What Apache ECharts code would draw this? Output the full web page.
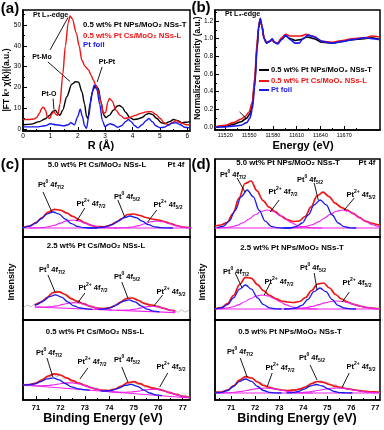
<!DOCTYPE html>
<html><head><meta charset="utf-8">
<script src="https://cdn.jsdelivr.net/npm/echarts@6/dist/echarts.min.js"></script>
<style>html,body{margin:0;padding:0;background:#fff}#c{width:384px;height:430px}</style>
</head><body><div id="c"></div>
<script>
// ================= DATA =================
// (a) EXAFS |FT k3 chi(k)| vs R (Å)
const exafsNPs = [[0,2],[0.3,2.3],[0.6,3.5],[0.8,4.8],[0.97,6.5],[1.1,8.5],[1.18,9],[1.27,7.5],[1.35,6.5],[1.45,9],[1.6,15.5],[1.78,21.5],[1.92,22.7],[2.03,22.5],[2.15,18],[2.25,12],[2.32,6],[2.37,5],[2.45,12],[2.55,18.5],[2.65,21],[2.75,19.5],[2.85,13],[2.94,7],[3.02,5.5],[3.15,6.5],[3.3,9],[3.45,11],[3.52,11.3],[3.62,10.5],[3.75,8],[3.9,5.5],[4.04,4.5],[4.2,4.8],[4.35,5.5],[4.5,7],[4.6,7.5],[4.72,7],[4.89,5],[5.05,3],[5.19,2.5],[5.35,3.5],[5.5,4.5],[5.65,4],[5.8,3],[5.95,3.2],[6.1,3.5]];
const exafsCs = [[0,4.5],[0.2,4.5],[0.4,4.8],[0.5,5.5],[0.6,7.5],[0.68,9.8],[0.75,10.5],[0.82,9],[0.9,5.5],[0.97,5],[1.05,7],[1.12,8.5],[1.2,7],[1.27,6.5],[1.35,12],[1.45,26],[1.55,40],[1.65,51],[1.72,54.3],[1.8,53],[1.95,46],[2.05,40],[2.15,33],[2.27,30],[2.39,28.5],[2.48,26],[2.57,23.5],[2.66,21],[2.75,18],[2.84,13],[2.94,7.5],[3.02,8],[3.1,13],[3.16,14.7],[3.25,13.5],[3.4,9],[3.55,6.5],[3.72,5],[3.9,5.5],[4.1,6.5],[4.3,7.5],[4.5,8.2],[4.7,8.3],[4.85,7],[5.01,5],[5.15,3],[5.32,2],[5.45,3],[5.6,4],[5.75,3],[5.96,2],[6.1,2]];
const exafsFoil = [[0,1],[0.3,1],[0.5,1],[0.8,1.5],[1.0,2.5],[1.2,2],[1.5,1.5],[1.65,2],[1.75,3],[1.88,2],[2.0,6],[2.09,9.5],[2.17,6],[2.25,1.5],[2.32,0.3],[2.4,6],[2.5,16],[2.6,21],[2.7,19],[2.8,12],[2.9,4],[3.0,1],[3.1,2],[3.18,2.5],[3.3,2],[3.45,0.8],[3.6,1.5],[3.75,3.5],[3.85,4.5],[3.95,3.5],[4.08,1.5],[4.2,0.5],[4.35,2],[4.5,4],[4.6,5],[4.72,3.5],[4.85,1.5],[5.0,0.6],[5.15,0.8],[5.3,1.8],[5.45,2.8],[5.6,3],[5.75,2],[5.9,0.8],[6.1,0.5]];
const exafsXTicks = [0,1,2,3,4,5,6];
const exafsYTicks = [0,10,20,30,40,50];

// (b) XANES normalized intensity vs energy (eV)
const xanesNPs = [[11507,0],[11520,0.01],[11530,0.03],[11540,0.06],[11547,0.1],[11551,0.15],[11554,0.25],[11557,0.5],[11560,0.9],[11562,1.12],[11564,1.22],[11566,1.15],[11569,1.0],[11572,0.95],[11576,0.97],[11579,0.99],[11582,0.96],[11586,0.95],[11591,1.0],[11596,1.03],[11602,1.0],[11608,0.98],[11615,0.99],[11623,1.02],[11632,1.0],[11642,0.96],[11655,0.95],[11668,0.97],[11680,0.99],[11695,1.0],[11705,1.01],[11714,0.99]];
const xanesCs = [[11507,0],[11520,0.02],[11530,0.05],[11540,0.09],[11545,0.12],[11550,0.17],[11554,0.28],[11557,0.55],[11560,0.95],[11562,1.15],[11564,1.22],[11566,1.15],[11569,1.0],[11572,0.96],[11576,0.97],[11579,0.98],[11582,0.96],[11586,0.95],[11591,1.01],[11596,1.05],[11602,1.03],[11608,1.03],[11615,1.03],[11622,1.05],[11630,1.03],[11642,0.97],[11655,0.96],[11668,0.98],[11680,1.0],[11695,1.01],[11705,1.03],[11714,1.02]];
const xanesFoil = [[11507,0],[11520,0],[11530,0.01],[11540,0.02],[11547,0.05],[11551,0.1],[11554,0.2],[11557,0.45],[11560,0.88],[11562,1.12],[11564,1.23],[11566,1.15],[11569,1.0],[11572,0.95],[11576,0.97],[11579,1.0],[11582,0.96],[11586,0.94],[11591,0.99],[11596,1.04],[11602,0.99],[11608,0.95],[11613,0.95],[11618,1.0],[11624,1.04],[11632,1.02],[11642,0.97],[11655,0.95],[11668,0.97],[11680,0.99],[11695,1.01],[11705,1.0],[11714,0.99]];
const xanesXTicks = [11520,11550,11580,11610,11640,11670];
const xanesYTicks = [0,0.2,0.4,0.6,0.8,1.0,1.2];

// (c) XPS Pt 4f, Pt Cs/MoO2 NSs-L  [binding energy, intensity a.u.]
const c50Env = [[70.5,9.6],[70.75,11.0],[71.0,14.3],[71.25,19.5],[71.5,24.8],[71.75,27.6],[72.0,26.9],[72.25,24.1],[72.5,20.7],[72.75,17.4],[73.0,14.2],[73.25,11.7],[73.5,10.4],[73.75,10.2],[74.0,11.4],[74.25,14.3],[74.5,18.2],[74.75,22.5],[75.0,23.0],[75.25,21.5],[75.5,19.5],[75.75,18.0],[76.0,17.0],[76.25,15.5],[76.5,13.5],[76.75,11.5],[77.0,10.0],[77.25,9.3]];
const c50Pt0a = [[70.2,9],[70.45,9.4],[70.7,10.6],[70.95,13.4],[71.2,18],[71.45,22.9],[71.7,25],[71.95,22.9],[72.2,18],[72.45,13.4],[72.7,10.6],[72.95,9.4],[73.2,9.1],[73.5,9]];
const c50Pt2a = [[70.7,9],[71.0,9.1],[71.25,9.4],[71.5,10.2],[71.75,11.7],[72.0,13.9],[72.25,16.1],[72.5,17],[72.75,16.1],[73.0,13.9],[73.25,11.7],[73.5,10.2],[73.75,9.4],[74.0,9.1],[74.3,9]];
const c50Pt0b = [[73.1,9],[73.35,9.1],[73.6,9.3],[73.85,10.2],[74.1,12.3],[74.35,15.8],[74.6,19.4],[74.85,21],[75.1,19.4],[75.35,15.8],[75.6,12.3],[75.85,10.2],[76.1,9.3],[76.35,9.1],[76.6,9]];
const c50Pt2b = [[74.2,9],[74.45,9.1],[74.7,9.3],[74.95,10.0],[75.2,11.4],[75.45,13.3],[75.7,15.2],[75.95,16],[76.2,15.2],[76.45,13.3],[76.7,11.4],[76.95,10.0],[77.2,9.3],[77.45,9.1]];
const c50Base = [[70.47,9],[77.3,9]];

const c25Raw = [[70.5,12.5],[70.65,15.0],[70.8,13.2],[70.95,16.1],[71.1,15.4],[71.25,19.6],[71.4,20.4],[71.55,25.3],[71.7,26.0],[71.85,29.5],[72.0,27.0],[72.15,26.5],[72.3,22.1],[72.45,22.8],[72.6,18.3],[72.75,19.9],[72.9,15.2],[73.05,16.4],[73.2,12.7],[73.35,14.1],[73.5,11.0],[73.65,12.6],[73.8,10.9],[73.95,12.8],[74.1,12.4],[74.25,15.9],[74.4,16.2],[74.55,19.8],[74.7,20.1],[74.85,23.5],[75.0,21.0],[75.15,20.2],[75.3,17.0],[75.45,17.8],[75.6,14.2],[75.75,15.9],[75.9,12.9],[76.05,14.2],[76.2,11.1],[76.35,11.8],[76.5,9.0],[76.65,10.6],[76.8,7.6],[76.95,10.1],[77.1,7.9],[77.25,9.6]];
const c25Env = [[70.95,14.8],[71.2,17.7],[71.45,22.3],[71.7,27.5],[71.95,28.2],[72.2,25.5],[72.45,21.2],[72.7,18.6],[72.95,16.1],[73.2,13.8],[73.45,12.1],[73.7,11.3],[73.95,11.8],[74.2,13.9],[74.45,17.6],[74.7,21.5],[74.95,22.0],[75.2,19.5],[75.45,16.3],[75.7,15.0],[75.95,13.7],[76.2,11.9],[76.45,10.0],[76.7,8.6]];
const c25Pt0a = [[70.95,14.8],[71.05,15.6],[71.3,19.2],[71.55,23.3],[71.8,25.2],[72.05,22.8],[72.3,18.2],[72.55,14.1],[72.8,12.0],[73.05,11.2],[73.3,10.7]];
const c25Pt2a = [[70.95,13],[71.1,12.9],[71.35,12.9],[71.6,13.3],[71.85,14.1],[72.1,15.6],[72.35,16.9],[72.6,17.4],[72.85,16.5],[73.1,14.6],[73.35,12.7],[73.6,11.3],[73.85,10.5],[74.1,10.0]];
const c25Pt0b = [[73.55,10.6],[73.8,10.9],[74.05,12.3],[74.3,15.2],[74.55,18.7],[74.8,20.2],[75.05,18.2],[75.3,14.2],[75.55,10.8],[75.8,8.9],[76.05,8.15]];
const c25Pt2b = [[74.3,9.8],[74.55,9.7],[74.8,10.0],[75.05,10.9],[75.3,12.1],[75.55,13.4],[75.8,13.7],[76.05,12.9],[76.3,11.2],[76.55,9.4],[76.7,8.7]];
const c25Base = [[70.95,13],[76.7,7.4]];

const c05Raw = [[70.5,15.8],[70.65,13.9],[70.8,16.4],[70.95,15.6],[71.1,18.5],[71.25,18.8],[71.4,22.6],[71.55,22.9],[71.7,25.8],[71.85,23.4],[72.0,25.1],[72.15,21.0],[72.3,21.6],[72.45,17.9],[72.6,18.6],[72.75,15.4],[72.9,16.2],[73.05,12.9],[73.2,13.8],[73.35,10.8],[73.5,12.2],[73.65,9.4],[73.8,10.6],[73.95,9.0],[74.1,11.3],[74.25,10.4],[74.4,13.6],[74.55,14.1],[74.7,17.2],[74.85,16.0],[75.0,18.4],[75.15,15.3],[75.3,16.1],[75.45,12.9],[75.6,13.8],[75.75,11.1],[75.9,12.4],[76.05,9.7],[76.2,10.6],[76.35,7.5],[76.5,8.6],[76.65,5.4],[76.8,6.7],[76.95,3.6],[77.1,5.2],[77.25,2.3]];
const c05Env = [[70.47,15.1],[70.75,15.4],[71.0,16.8],[71.25,20.2],[71.5,24.0],[71.75,26.2],[72.0,25.0],[72.25,22.2],[72.5,19.3],[72.75,16.9],[73.0,14.6],[73.25,12.4],[73.5,10.7],[73.75,9.6],[74.0,9.5],[74.25,11.0],[74.5,14.0],[74.75,17.3],[75.0,18.3],[75.25,16.4],[75.5,13.9],[75.75,12.2],[76.0,10.8],[76.25,9.0],[76.5,7.1],[76.75,5.3],[77.0,3.7],[77.3,2.4]];
const c05Pt0a = [[70.47,15.1],[70.7,15.2],[70.95,16.1],[71.2,18.4],[71.45,21.1],[71.7,22.2],[71.95,20.2],[72.2,16.5],[72.45,13.2],[72.7,11.4],[72.95,10.4],[73.2,9.8]];
const c05Pt2a = [[70.47,15.0],[70.75,14.6],[71.0,14.2],[71.25,14.2],[71.5,14.5],[71.75,15.3],[72.0,16.3],[72.25,17.1],[72.5,17.1],[72.75,16.2],[73.0,14.4],[73.25,12.4],[73.5,10.7],[73.75,9.4],[74.0,8.5],[74.25,7.9],[74.5,7.3]];
const c05Pt0b = [[73.65,9.05],[73.9,9.0],[74.15,9.9],[74.4,12.0],[74.65,14.6],[74.9,15.6],[75.15,13.7],[75.4,10.1],[75.65,7.0],[75.9,5.2],[76.15,4.3]];
const c05Pt2b = [[73.9,8.5],[74.15,8.1],[74.4,7.8],[74.65,7.7],[74.9,8.0],[75.15,8.8],[75.4,9.8],[75.65,10.6],[75.9,10.7],[76.15,9.7],[76.4,7.9],[76.65,5.9],[76.9,4.2],[77.15,2.9],[77.3,2.3]];
const c05Base = [[70.47,15],[77.3,2]];

// (d) XPS Pt 4f, Pt NPs/MoO2 NSs-T
const d50Env = [[70.33,11.0],[70.58,12.0],[70.83,14.5],[71.08,23.5],[71.33,38.9],[71.58,53.5],[71.83,56.0],[72.08,46.2],[72.33,36.4],[72.58,29.9],[72.83,25.3],[73.08,21.0],[73.33,17.5],[73.58,15.5],[73.83,16.0],[74.08,20.5],[74.33,30.2],[74.58,41.2],[74.83,44.8],[75.08,40.4],[75.33,33.9],[75.58,29.7],[75.83,26.8],[76.08,23.6],[76.33,19.6],[76.58,16.0],[76.83,14.0],[77.08,12.5],[77.2,12.0]];
const d50Pt0a = [[70.42,9.3],[70.67,10.7],[70.92,15.8],[71.17,26.6],[71.42,40.4],[71.67,47],[71.92,40.4],[72.17,26.6],[72.42,15.8],[72.67,10.7],[72.92,9.3],[73.17,9.0],[73.5,9]];
const d50Pt2a = [[70.33,9],[70.5,9.1],[70.75,9.4],[71.0,10.1],[71.25,11.6],[71.5,14.3],[71.75,18],[72.0,22.2],[72.25,25.7],[72.5,27],[72.75,25.7],[73.0,22.2],[73.25,18],[73.5,14.3],[73.75,11.6],[74.0,10.1],[74.25,9.4],[74.5,9.1],[74.8,9]];
const d50Pt0b = [[73.2,9],[73.46,9.2],[73.71,10.3],[73.96,14.0],[74.21,22.0],[74.46,32.1],[74.71,37],[74.96,32.1],[75.21,22.0],[75.46,14.0],[75.71,10.3],[75.96,9.2],[76.21,9]];
const d50Pt2b = [[73.4,9.1],[73.63,9.2],[73.88,9.6],[74.13,10.6],[74.38,12.3],[74.63,15.1],[74.88,18.8],[75.13,22.7],[75.38,25.8],[75.63,27],[75.88,25.8],[76.13,22.7],[76.38,18.8],[76.63,15.1],[76.88,12.3],[77.13,10.6],[77.2,10.3]];
const d50Base = [[70.33,9],[77.2,9]];

const d25Env = [[70.35,11.3],[70.6,12.5],[70.85,16.4],[71.1,24.5],[71.35,35.4],[71.6,42.7],[71.85,41.7],[72.1,35.4],[72.35,29.3],[72.6,24.6],[72.85,21.5],[73.1,19.0],[73.35,18.0],[73.6,17.5],[73.85,18.5],[74.1,22.5],[74.35,29.5],[74.6,36.0],[74.85,37.0],[75.1,32.0],[75.35,25.5],[75.6,21.0],[75.85,18.0],[76.1,15.7],[76.35,14.0],[76.6,12.7],[76.85,11.8],[77.1,11.4],[77.2,11.3]];
const d25Pt0a = [[70.35,11.2],[70.6,12.1],[70.85,15.3],[71.1,22.1],[71.35,30.8],[71.6,35],[71.85,30.8],[72.1,22.1],[72.35,15.3],[72.6,12.1],[72.85,11.2],[73.1,11]];
const d25Pt2a = [[70.33,11.1],[70.55,11.3],[70.8,11.9],[71.05,13.0],[71.3,15.1],[71.55,18],[71.8,21.3],[72.05,24.0],[72.3,25],[72.55,24.0],[72.8,21.3],[73.05,18],[73.3,15.1],[73.55,13.0],[73.8,11.9],[74.05,11.3],[74.3,11.1],[74.6,11]];
const d25Pt0b = [[73.2,11],[73.45,11.2],[73.7,12.0],[73.95,14.7],[74.2,20.7],[74.45,28.3],[74.7,32],[74.95,28.3],[75.2,20.7],[75.45,14.7],[75.7,12.0],[75.95,11.2],[76.2,11]];
const d25Pt2b = [[73.2,11],[73.4,11.1],[73.65,11.3],[73.9,11.7],[74.15,12.5],[74.4,13.7],[74.65,15.4],[74.9,17.1],[75.15,18.5],[75.4,19],[75.65,18.5],[75.9,17.1],[76.15,15.4],[76.4,13.7],[76.65,12.5],[76.9,11.7],[77.15,11.3],[77.2,11.2]];
const d25Base = [[70.33,11],[77.2,11]];

const d05Raw = [[70.4,7.8],[70.55,6.5],[70.7,8.6],[70.85,9.1],[71.0,12.6],[71.15,14.2],[71.3,19.3],[71.45,20.5],[71.6,24.1],[71.75,22.2],[71.9,22.8],[72.05,18.6],[72.2,17.6],[72.35,15.9],[72.5,14.3],[72.65,13.4],[72.8,11.9],[72.95,11.2],[73.1,9.1],[73.25,10.4],[73.4,8.6],[73.55,10.8],[73.7,9.5],[73.85,11.6],[74.0,11.0],[74.15,14.4],[74.3,15.1],[74.45,18.6],[74.6,18.2],[74.75,19.4],[74.9,16.5],[75.05,17.6],[75.2,14.3],[75.35,15.6],[75.5,13.1],[75.65,14.0],[75.8,11.3],[75.95,11.9],[76.1,9.5],[76.25,10.4],[76.4,8.2],[76.55,9.6],[76.7,7.3],[76.85,8.4],[77.0,6.8],[77.15,7.9]];
const d05Env = [[70.35,7.8],[70.6,8.0],[70.85,9.8],[71.1,14.1],[71.35,19.9],[71.6,23.3],[71.85,22.0],[72.1,18.0],[72.35,14.5],[72.6,12.4],[72.85,11.0],[73.1,10.0],[73.35,9.5],[73.6,9.8],[73.85,10.8],[74.1,13.0],[74.35,16.3],[74.6,18.5],[74.85,17.6],[75.1,15.5],[75.35,13.7],[75.6,12.4],[75.85,11.2],[76.1,10.2],[76.35,9.3],[76.6,8.6],[76.85,8.2],[77.1,7.9],[77.2,7.8]];
const d05Pt0a = [[70.35,7.1],[70.6,7.6],[70.85,9.5],[71.1,13.5],[71.35,18.55],[71.6,21],[71.85,18.55],[72.1,13.5],[72.35,9.5],[72.6,7.6],[72.85,7.1],[73.1,7]];
const d05Pt2a = [[70.4,7.0],[70.65,7.1],[70.9,7.3],[71.15,7.7],[71.4,8.5],[71.65,9.5],[71.9,10.7],[72.15,11.6],[72.4,12],[72.65,11.6],[72.9,10.7],[73.15,9.5],[73.4,8.5],[73.65,7.7],[73.9,7.3],[74.15,7.1],[74.4,7.0]];
const d05Pt0b = [[73.3,7.1],[73.55,7.4],[73.8,8.5],[74.05,10.9],[74.3,14.0],[74.55,15.5],[74.8,14.0],[75.05,10.9],[75.3,8.5],[75.55,7.4],[75.8,7.1],[76.05,7]];
const d05Pt2b = [[73.4,7.1],[73.65,7.2],[73.9,7.4],[74.15,7.9],[74.4,8.7],[74.65,9.7],[74.9,10.8],[75.15,11.7],[75.4,12],[75.65,11.7],[75.9,10.8],[76.15,9.7],[76.4,8.7],[76.65,7.9],[76.9,7.4],[77.15,7.2],[77.2,7.15]];
const d05Base = [[70.33,7],[77.2,7]];

const xpsTicks = [71,72,73,74,75,76,77];
const xpsMinor = [70.5,71.5,72.5,73.5,74.5,75.5,76.5];

const seriesNames = ['0.5 wt% Pt NPs/MoO\u2082 NSs-T','0.5 wt% Pt Cs/MoO\u2082 NSs-L','Pt foil'];
const cTitles = ['5.0 wt% Pt Cs/MoO\u2082 NSs-L','2.5 wt% Pt Cs/MoO\u2082 NSs-L','0.5 wt% Pt Cs/MoO\u2082 NSs-L'];
const dTitles = ['5.0 wt% Pt NPs/MoO\u2082 NSs-T','2.5 wt% Pt NPs/MoO\u2082 NSs-T','0.5 wt% Pt NPs/MoO\u2082 NSs-T'];

// ================= LAYOUT / STYLE =================
const FONT = '"Liberation Sans", Arial, Helvetica, sans-serif';
const RED = '#f01414', BLUE = '#1818f0', MAG = '#ee22ee', GRAY = '#b8b8b8', BLK = '#000';

const grids = [
  {left:23, top:10, width:167, height:121},
  {left:215, top:10, width:165, height:120},
  {left:23, top:159, width:167, height:78},
  {left:23, top:237, width:167, height:83},
  {left:23, top:320, width:167, height:80},
  {left:215, top:159, width:165, height:78},
  {left:215, top:237, width:165, height:83},
  {left:215, top:320, width:165, height:80}
].map(g => Object.assign({show:true, borderColor:'#000', borderWidth:1.5, backgroundColor:'transparent', containLabel:false}, g));

const ranges = [
  {x:[0,6.1], y:[-1,57.2]},
  {x:[11507,11715], y:[-0.034,1.325]},
  {x:[70.47,77.3], y:[0,78]},
  {x:[70.47,77.3], y:[0,83]},
  {x:[70.47,77.3], y:[0,80]},
  {x:[70.33,77.2], y:[0,78]},
  {x:[70.33,77.2], y:[0,83]},
  {x:[70.33,77.2], y:[0,80]}
];

function mainAxis(gi, isX, rng, major, labelCfg) {
  const a = {
    type:'value', gridIndex:gi, min:rng[0], max:rng[1],
    position: isX ? 'bottom' : 'left',
    axisLine:{show:true, onZero:false, lineStyle:{color:'#000', width: isX && (gi===2||gi===3||gi===5||gi===6) ? 2 : 1.5}},
    splitLine:{show:false},
    axisTick:{show:!!major, inside:true, length:4, lineStyle:{color:'#000', width:1}},
    axisLabel:{show:!!labelCfg},
  };
  if (major) a.axisTick.customValues = major;
  if (labelCfg) a.axisLabel = Object.assign({show:true, customValues:major, color:'#000', fontFamily:FONT}, labelCfg);
  return a;
}
function minorAxis(gi, isX, rng, minor) {
  return {type:'value', gridIndex:gi, min:rng[0], max:rng[1], position: isX?'bottom':'left',
    axisLine:{show:false, onZero:false}, splitLine:{show:false}, axisLabel:{show:false},
    axisTick:{show:true, inside:true, length:2, customValues:minor, lineStyle:{color:'#000', width:1}}};
}

const xAxes = [], yAxes = [];
xAxes.push(mainAxis(0,true,ranges[0].x, exafsXTicks, {fontSize:6.5, margin:2, formatter:v=>String(v)}));
yAxes.push(mainAxis(0,false,ranges[0].y, exafsYTicks, {fontSize:6.5, margin:2, formatter:v=>String(v)}));
xAxes.push(mainAxis(1,true,ranges[1].x, xanesXTicks, {fontSize:5.5, margin:2, formatter:v=>String(v)}));
yAxes.push(mainAxis(1,false,ranges[1].y, xanesYTicks, {fontSize:6.5, margin:2, formatter:v=>v.toFixed(1)}));
for (let gi=2; gi<8; gi++) {
  const bottom = (gi===4 || gi===7);
  xAxes.push(mainAxis(gi,true,ranges[gi].x, bottom?xpsTicks:null, bottom?{fontSize:7.5, fontWeight:'bold', margin:4, formatter:v=>String(v)}:null));
  yAxes.push(mainAxis(gi,false,ranges[gi].y, null, null));
}
// minor ticks
xAxes.push(minorAxis(0,true,ranges[0].x,[0.5,1.5,2.5,3.5,4.5,5.5]));
yAxes.push(minorAxis(0,false,ranges[0].y,[5,15,25,35,45,55]));
xAxes.push(minorAxis(1,true,ranges[1].x,[11535,11565,11595,11625,11655,11685]));
yAxes.push(minorAxis(1,false,ranges[1].y,[0.1,0.3,0.5,0.7,0.9,1.1,1.3]));
xAxes.push(minorAxis(4,true,ranges[4].x,xpsMinor));
xAxes.push(minorAxis(7,true,ranges[7].x,xpsMinor));

// ================= SERIES =================
const series = [];
function line(gi, data, color, width, opt) {
  const s = Object.assign({type:'line', xAxisIndex:gi, yAxisIndex:gi, data:data, symbol:'none', showSymbol:false,
    smooth:0.35, smoothMonotone:'x', lineStyle:{color:color, width:width}, itemStyle:{color:color},
    animation:false, silent:true, clip:true}, opt||{});
  series.push(s);
  return s;
}
function arrows(list) {
  return {silent:true, animation:false, symbol:['none','arrow'], symbolSize:[0,5], label:{show:false},
    lineStyle:{color:'#000', width:0.9, type:'solid'}, emphasis:{disabled:true},
    data:list.map(a=>[{coord:[a[0],a[1]]},{coord:[a[2],a[3]]}])};
}

// annotation arrows (data coords)
const aArrows = [[0.99,38,1.64,53.5],[0.91,32.2,1.72,22.8],[2.89,29.8,2.71,22.6],[1.1,14.6,1.13,9.4]];
const bArrows = [[11538,0.17,11546,0.1]];
const xpsArrows = [
  [[71.29,45,71.65,25],[73.0,29,72.67,16],[74.35,37,74.63,20],[75.94,27,75.57,15]],
  [[71.49,45,71.78,28],[73.0,27,72.71,17],[74.51,38,74.76,22],[76.18,25,75.82,14]],
  [[71.45,42,71.69,23],[73.12,32,72.8,21],[74.51,33,74.76,18],[76.39,27,76.06,13]],
  [[71.25,59,71.58,45],[73.0,37,72.63,25],[74.46,54,74.63,37],[76.13,39,75.71,27]],
  [[71.17,47,71.46,32],[72.63,37,72.38,25],[74.46,47,74.58,30],[75.92,28,75.63,18]],
  [[71.38,42,71.67,23],[72.71,27,72.5,13],[74.29,35,74.58,20],[75.92,27,75.63,13]]
];

line(0, exafsNPs, BLK, 1.4, {name:seriesNames[0], smooth:0.3, markLine:arrows(aArrows)});
line(0, exafsCs, RED, 1.4, {name:seriesNames[1], smooth:0.3});
line(0, exafsFoil, BLUE, 1.4, {name:seriesNames[2], smooth:0.3});

line(1, xanesNPs, BLK, 1.6, {name:seriesNames[0], smooth:0.3});
line(1, xanesCs, RED, 1.6, {name:seriesNames[1], smooth:0.3});
line(1, xanesFoil, BLUE, 1.6, {name:seriesNames[2], smooth:0.3, markLine:arrows(bArrows)});

const xpsSets = [
  {raw:null,   env:c50Env, p0a:c50Pt0a, p2a:c50Pt2a, p0b:c50Pt0b, p2b:c50Pt2b, base:c50Base},
  {raw:c25Raw, env:c25Env, p0a:c25Pt0a, p2a:c25Pt2a, p0b:c25Pt0b, p2b:c25Pt2b, base:c25Base},
  {raw:c05Raw, env:c05Env, p0a:c05Pt0a, p2a:c05Pt2a, p0b:c05Pt0b, p2b:c05Pt2b, base:c05Base},
  {raw:null,   env:d50Env, p0a:d50Pt0a, p2a:d50Pt2a, p0b:d50Pt0b, p2b:d50Pt2b, base:d50Base},
  {raw:null,   env:d25Env, p0a:d25Pt0a, p2a:d25Pt2a, p0b:d25Pt0b, p2b:d25Pt2b, base:d25Base},
  {raw:d05Raw, env:d05Env, p0a:d05Pt0a, p2a:d05Pt2a, p0b:d05Pt0b, p2b:d05Pt2b, base:d05Base}
];
xpsSets.forEach((s, i) => {
  const gi = i + 2;
  if (s.raw) line(gi, s.raw, GRAY, 0.9, {smooth:false});
  line(gi, s.env, RED, 1.7, {markLine:arrows(xpsArrows[i])});
  line(gi, s.base, MAG, 1.1, {smooth:false});
  line(gi, s.p2a, MAG, 1.1);
  line(gi, s.p2b, MAG, 1.1);
  line(gi, s.p0a, BLUE, 1.3);
  line(gi, s.p0b, BLUE, 1.3);
});

// ================= TEXT (graphic) =================
const graphics = [];
function T(x, y, text, size, opt) {
  opt = opt || {};
  graphics.push({type:'text', x:x, y:y, rotation:opt.rot||0, z:100, silent:true,
    style:{text:text, fill:opt.color||'#000', font:(opt.weight||'bold')+' '+size+'px '+FONT,
      textAlign:opt.align||'center', textVerticalAlign:'middle', align:opt.align||'center', verticalAlign:'middle'}});
}
function peakLabel(x, y, charge, orb) {
  graphics.push({type:'text', x:x, y:y, z:100, silent:true,
    style:{text:'{b|Pt}{p|'+charge+'}{b| 4f}{s|'+orb+'}', align:'center', verticalAlign:'middle',
      textAlign:'center', textVerticalAlign:'middle', fill:'#000',
      rich:{b:{font:'bold 7.5px '+FONT, lineHeight:11, fill:'#000', verticalAlign:'middle'},
            p:{font:'bold 5px '+FONT, fill:'#000', verticalAlign:'top'},
            s:{font:'bold 5px '+FONT, fill:'#000', verticalAlign:'bottom'}}}});
}
function lineG(x1,y1,x2,y2,color,w) {
  graphics.push({type:'line', z:100, silent:true, shape:{x1,y1,x2,y2}, style:{stroke:color, lineWidth:w}});
}

// panel a
T(10, 9, '(a)', 15);
T(33, 15, 'Pt L\u2083-edge', 7, {align:'left'});
T(83, 25, seriesNames[0], 7.8, {align:'left'});
T(83, 36, seriesNames[1], 7.8, {align:'left', color:RED});
T(83, 45, seriesNames[2], 7.8, {align:'left', color:BLUE});
T(42, 57, 'Pt-Mo', 7);
T(107, 62, 'Pt-Pt', 7);
T(49, 94, 'Pt-O', 7);
T(7, 80, '|FT k\u00b3 \u03c7(k)|(a.u.)', 8.5, {rot:Math.PI/2});
T(101, 146, 'R (\u00c5)', 11);

// panel b
T(201, 8, '(b)', 15);
T(225, 14, 'Pt L\u2083-edge', 7, {align:'left'});
[[70,BLK],[81,RED],[90,BLUE]].forEach((r,i)=>{
  lineG(259, r[0], 269, r[0], r[1], 2);
  T(271, r[0], seriesNames[i], 7.6, {align:'left', color:r[1]});
});
T(198, 68, 'Normalized Intensity (a.u.)', 8.3, {rot:Math.PI/2});
T(303, 146, 'Energy (eV)', 11);

// panel c
T(10, 165, '(c)', 15);
T(97, 165, cTitles[0], 7.8);
T(176, 165, 'Pt 4f', 7.8);
T(96, 246, cTitles[1], 7.8);
T(95, 332, cTitles[2], 7.8);
T(12, 282, 'Intensity', 9, {rot:Math.PI/2});
T(103, 419, 'Binding Energy (eV)', 12.5);

// panel d
T(201, 165, '(d)', 15);
T(288, 163, dTitles[0], 7.8);
T(367, 163, 'Pt 4f', 7.8);
T(292, 248, dTitles[1], 7.8);
T(290, 332, dTitles[2], 7.8);
T(203, 282, 'Intensity', 9, {rot:Math.PI/2});
T(297, 419, 'Binding Energy (eV)', 12.5);

const peakLabelPos = [
  [[51,185],[91,204],[127,197],[168,205]],
  [[52,270],[93,288],[127,277],[171,292]],
  [[49,353],[92,362],[127,360],[171,367]],
  [[233,175],[283,192],[310,180],[361,195]],
  [[236,272],[279,282],[313,268],[357,283]],
  [[240,352],[280,368],[312,358],[361,367]]
];
const peakKinds = [['0','7/2'],['2+','7/2'],['0','5/2'],['2+','5/2']];
peakLabelPos.forEach(panel => panel.forEach((p, k) => peakLabel(p[0], p[1], peakKinds[k][0], peakKinds[k][1])));

const chart = echarts.init(document.getElementById('c'), null, {renderer:'canvas', width:384, height:430});
chart.setOption({
  animation:false,
  backgroundColor:'#fff',
  grid: grids,
  xAxis: xAxes,
  yAxis: yAxes,
  series: series,
  graphic: graphics
});
</script>
</body></html>
